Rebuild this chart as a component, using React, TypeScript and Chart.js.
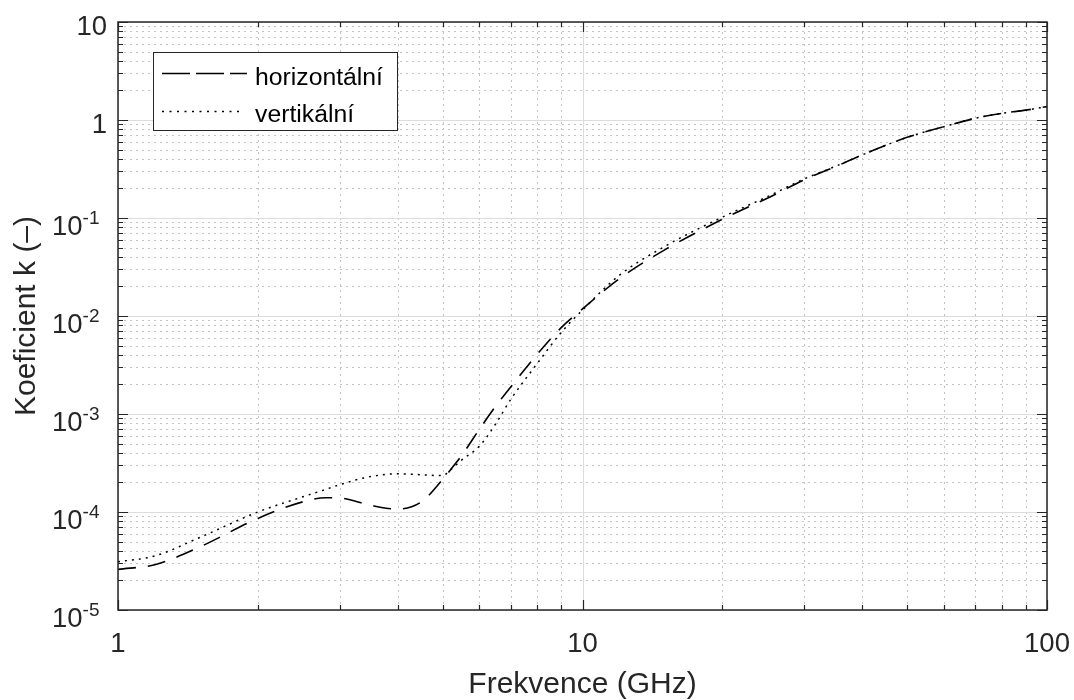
import React, { useEffect, useRef } from "react";
import { Chart, registerables } from "chart.js";

Chart.register(...registerables);

// ---- data ----
const FREQ_GHZ = [1, 1.2, 1.5, 2, 2.5, 2.8, 3, 3.5, 4, 4.5, 5, 5.2, 5.5, 6, 6.5, 7, 8, 9, 10, 12, 15, 20, 25, 30, 35, 40, 50, 60, 70, 80, 90, 100];
const K_HORIZONTAL = [2.6e-5, 2.9e-5, 4.4e-5, 8.6e-5, 1.27e-4, 1.4e-4, 1.39e-4, 1.17e-4, 1.07e-4, 1.27e-4, 2.15e-4, 2.7e-4, 3.8e-4, 7.0e-4, 1.2e-3, 1.88e-3, 4.1e-3, 7.6e-3, 1.18e-2, 2.4e-2, 4.7e-2, 9.7e-2, 0.159, 0.245, 0.334, 0.44, 0.665, 0.855, 1.04, 1.17, 1.26, 1.37];
const K_VERTICAL = [3.1e-5, 3.56e-5, 5.5e-5, 1.0e-4, 1.43e-4, 1.7e-4, 1.9e-4, 2.3e-4, 2.45e-4, 2.4e-4, 2.35e-4, 2.7e-4, 3.4e-4, 4.7e-4, 7.9e-4, 1.4e-3, 3.3e-3, 6.8e-3, 1.15e-2, 2.6e-2, 5.1e-2, 0.102, 0.165, 0.25, 0.336, 0.44, 0.665, 0.855, 1.04, 1.17, 1.26, 1.37];
const SERIES_LABELS = ["horizontální", "vertikální"];

const X_TICKS = [1, 10, 100];
const X_TICK_LABELS = ["1", "10", "100"];
const Y_TICKS = [1e-5, 1e-4, 1e-3, 1e-2, 1e-1, 1, 10];
const Y_TICK_BASE = ["10", "10", "10", "10", "10", "1", "10"];
const Y_TICK_EXP = ["-5", "-4", "-3", "-2", "-1", "", ""];

const X_TITLE = "Frekvence (GHz)";
const Y_TITLE = "Koeficient k (–)";

const FONT = "'Liberation Sans', Arial, Helvetica, sans-serif";
const AXIS_COLOR = "#262626";

function minorValues(majors: number[]): number[] {
  const out: number[] = [];
  for (let i = 0; i < majors.length - 1; i++) {
    for (let m = 2; m <= 9; m++) out.push(majors[i] * m);
  }
  return out;
}

const matlabPlugin = {
  id: "matlabAxes",
  beforeDatasetsDraw(chart: any) {
    const { ctx, chartArea: a, scales } = chart;
    const x = scales.x;
    const y = scales.y;
    ctx.save();
    ctx.lineWidth = 1;
    // minor dotted grid
    ctx.strokeStyle = "#c4c4c4";
    ctx.setLineDash([2, 4]);
    for (const v of minorValues(X_TICKS)) {
      const px = Math.round(x.getPixelForValue(v)) + 0.5;
      ctx.beginPath();
      ctx.moveTo(px, a.bottom);
      ctx.lineTo(px, a.top);
      ctx.stroke();
    }
    for (const v of minorValues(Y_TICKS)) {
      const py = Math.round(y.getPixelForValue(v)) + 0.5;
      ctx.beginPath();
      ctx.moveTo(a.left, py);
      ctx.lineTo(a.right, py);
      ctx.stroke();
    }
    // major solid grid
    ctx.setLineDash([]);
    ctx.strokeStyle = "#dcdcdc";
    for (const v of X_TICKS) {
      const px = Math.round(x.getPixelForValue(v)) + 0.5;
      ctx.beginPath();
      ctx.moveTo(px, a.bottom);
      ctx.lineTo(px, a.top);
      ctx.stroke();
    }
    for (const v of Y_TICKS) {
      const py = Math.round(y.getPixelForValue(v)) + 0.5;
      ctx.beginPath();
      ctx.moveTo(a.left, py);
      ctx.lineTo(a.right, py);
      ctx.stroke();
    }
    ctx.restore();
  },
  afterDraw(chart: any) {
    const { ctx, chartArea: a, scales } = chart;
    const x = scales.x;
    const y = scales.y;
    ctx.save();
    ctx.setLineDash([]);
    // ticks
    ctx.strokeStyle = AXIS_COLOR;
    ctx.lineWidth = 1.2;
    const drawXTick = (v: number, len: number) => {
      const px = Math.round(x.getPixelForValue(v)) + 0.5;
      ctx.beginPath();
      ctx.moveTo(px, a.bottom);
      ctx.lineTo(px, a.bottom - len);
      ctx.moveTo(px, a.top);
      ctx.lineTo(px, a.top + len);
      ctx.stroke();
    };
    const drawYTick = (v: number, len: number) => {
      const py = Math.round(y.getPixelForValue(v)) + 0.5;
      ctx.beginPath();
      ctx.moveTo(a.left, py);
      ctx.lineTo(a.left + len, py);
      ctx.moveTo(a.right, py);
      ctx.lineTo(a.right - len, py);
      ctx.stroke();
    };
    X_TICKS.forEach((v) => drawXTick(v, 10));
    minorValues(X_TICKS).forEach((v) => drawXTick(v, 5));
    Y_TICKS.forEach((v) => drawYTick(v, 10));
    minorValues(Y_TICKS).forEach((v) => drawYTick(v, 5));

    // box
    ctx.lineWidth = 1.5;
    ctx.strokeRect(a.left, a.top, a.right - a.left, a.bottom - a.top);

    // x tick labels
    ctx.fillStyle = AXIS_COLOR;
    ctx.font = `27.5px ${FONT}`;
    ctx.textAlign = "center";
    ctx.textBaseline = "alphabetic";
    X_TICKS.forEach((v, i) => {
      ctx.fillText(X_TICK_LABELS[i], x.getPixelForValue(v), a.bottom + 42);
    });

    // y tick labels
    Y_TICKS.forEach((v, i) => {
      const py = y.getPixelForValue(v);
      const base = Y_TICK_BASE[i];
      const exp = Y_TICK_EXP[i];
      if (!exp) {
        ctx.font = `27.5px ${FONT}`;
        ctx.textAlign = "right";
        ctx.fillText(base, a.left - 11, py + 12.8);
      } else {
        ctx.font = `27.5px ${FONT}`;
        const wb = ctx.measureText(base).width;
        ctx.font = `19px ${FONT}`;
        const ws = ctx.measureText(exp).width;
        const right = a.left - 18.5;
        const start = right - ws - wb;
        ctx.textAlign = "left";
        ctx.font = `27.5px ${FONT}`;
        ctx.fillText(base, start, py + 16.8);
        ctx.font = `19px ${FONT}`;
        ctx.fillText(exp, start + wb, py + 5.8);
      }
    });

    // axis titles
    ctx.font = `30px ${FONT}`;
    ctx.textAlign = "center";
    ctx.fillText(X_TITLE, (a.left + a.right) / 2, 693);
    ctx.save();
    ctx.translate(35, (a.top + a.bottom) / 2);
    ctx.rotate(-Math.PI / 2);
    ctx.fillText(Y_TITLE, 0, 0);
    ctx.restore();

    // legend
    const lx = 153.5, ly = 52.5, lw = 244, lh = 78;
    ctx.fillStyle = "#ffffff";
    ctx.fillRect(lx, ly, lw, lh);
    ctx.strokeStyle = AXIS_COLOR;
    ctx.lineWidth = 1;
    ctx.strokeRect(lx, ly, lw, lh);

    ctx.strokeStyle = "#000000";
    ctx.lineWidth = 1.6;
    ctx.setLineDash([28, 6]);
    ctx.beginPath();
    ctx.moveTo(162, 73.5);
    ctx.lineTo(247, 73.5);
    ctx.stroke();
    ctx.lineWidth = 1.5;
    ctx.setLineDash([2, 5.5]);
    ctx.beginPath();
    ctx.moveTo(162, 111.5);
    ctx.lineTo(240, 111.5);
    ctx.stroke();
    ctx.setLineDash([]);

    ctx.fillStyle = "#000000";
    ctx.font = `24.75px ${FONT}`;
    ctx.textAlign = "left";
    ctx.fillText(SERIES_LABELS[0], 255, 85);
    ctx.fillText(SERIES_LABELS[1], 255, 122);
    ctx.restore();
  },
};

export default function App() {
  const canvasRef = useRef<HTMLCanvasElement | null>(null);

  useEffect(() => {
    if (!canvasRef.current) return;
    const chart = new Chart(canvasRef.current, {
      type: "line",
      data: {
        datasets: [
          {
            label: SERIES_LABELS[0],
            data: FREQ_GHZ.map((f, i) => ({ x: f, y: K_HORIZONTAL[i] })),
            borderColor: "#000000",
            borderWidth: 1.6,
            borderDash: [18, 12],
            pointRadius: 0,
            fill: false,
            cubicInterpolationMode: "monotone",
          },
          {
            label: SERIES_LABELS[1],
            data: FREQ_GHZ.map((f, i) => ({ x: f, y: K_VERTICAL[i] })),
            borderColor: "#000000",
            borderWidth: 1.5,
            borderDash: [2, 5],
            pointRadius: 0,
            fill: false,
            cubicInterpolationMode: "monotone",
          },
        ],
      },
      options: {
        animation: false,
        responsive: false,
        maintainAspectRatio: false,
        events: [],
        layout: { padding: { top: 22, right: 27, left: 0, bottom: 0 } },
        plugins: { legend: { display: false }, tooltip: { enabled: false } },
        scales: {
          x: {
            type: "logarithmic",
            min: 1,
            max: 100,
            grid: { display: false },
            border: { display: false },
            ticks: { display: false },
            afterFit: (s: any) => {
              s.height = 90;
            },
          },
          y: {
            type: "logarithmic",
            min: 1e-5,
            max: 10,
            grid: { display: false },
            border: { display: false },
            ticks: { display: false },
            afterFit: (s: any) => {
              s.width = 118;
            },
          },
        },
      } as any,
      plugins: [matlabPlugin],
    });
    return () => chart.destroy();
  }, []);

  return (
    <div style={{ position: "absolute", left: 0, top: 0, width: 1074, height: 700, background: "#ffffff" }}>
      <canvas ref={canvasRef} width={1074} height={700} style={{ width: 1074, height: 700, display: "block" }} />
    </div>
  );
}
